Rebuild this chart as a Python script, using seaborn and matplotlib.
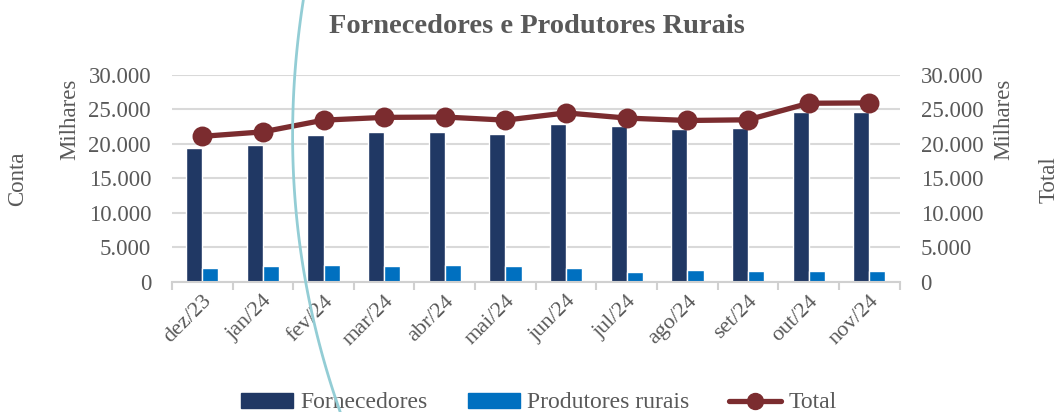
import numpy as np
import pandas as pd
import matplotlib
matplotlib.use("Agg")
import matplotlib.pyplot as plt
import seaborn as sns
from matplotlib.ticker import FuncFormatter, FixedLocator
from matplotlib.patches import Patch
from matplotlib.lines import Line2D

meses = ["dez/23", "jan/24", "fev/24", "mar/24", "abr/24", "mai/24",
         "jun/24", "jul/24", "ago/24", "set/24", "out/24", "nov/24"]
fornecedores = [19400, 19900, 21300, 21800, 21700, 21500,
                22900, 22600, 22100, 22300, 24600, 24600]
produtores = [1950, 2250, 2500, 2350, 2500, 2300,
              2000, 1400, 1650, 1550, 1600, 1600]
total = [21100, 21750, 23450, 23850, 23900, 23450,
         24500, 23750, 23400, 23500, 25900, 25950]

c_forn = "#203864"
c_prod = "#0070C0"
c_total = "#7B2C2F"
grey = "#595959"

sns.set_theme(style="white")
plt.rcParams["font.family"] = ["Liberation Serif", "DejaVu Serif"]

df = pd.DataFrame({
    "mes": meses * 2,
    "valor": fornecedores + produtores,
    "serie": ["Fornecedores"] * 12 + ["Produtores rurais"] * 12,
})

fig = plt.figure(figsize=(10.61, 4.12), dpi=100)
ax = fig.add_axes([0.162, 0.316, 0.686, 0.502])

sns.barplot(data=df, x="mes", y="valor", hue="serie", order=meses,
            palette=[c_forn, c_prod], width=0.53, gap=0, ax=ax,
            legend=False, saturation=1)
ax.set_ylim(0, 30000)
ax.set_xlim(-0.5, 11.5)
fmt = FuncFormatter(lambda v, p: f"{v:,.0f}".replace(",", "."))
ax.yaxis.set_major_formatter(fmt)
ax.set_yticks(np.arange(0, 30001, 5000))
ax.grid(axis="y", color="#d9d9d9", linewidth=1.5)
ax.set_axisbelow(True)
for s in ["top", "left", "right"]:
    ax.spines[s].set_visible(False)
ax.spines["bottom"].set_color("#d0d0d0")
ax.spines["bottom"].set_linewidth(1.5)
ax.set_xlabel("")
ax.set_ylabel("")
ax.tick_params(axis="y", colors=grey, labelsize=16.5, length=0, pad=15)
ax.tick_params(axis="x", which="major", length=0, colors=grey, labelsize=16, pad=7)
ax.xaxis.set_minor_locator(FixedLocator(np.arange(-0.5, 12, 1)))
ax.tick_params(axis="x", which="minor", length=6, width=1.5, color="#d0d0d0",
               direction="out", bottom=True)
plt.setp(ax.get_xticklabels(), rotation=45, ha="right", rotation_mode="anchor")

ax2 = ax.twinx()
sns.pointplot(x=meses, y=total, color=c_total, markers="o", markersize=11.5,
              linewidth=3.8, ax=ax2, errorbar=None)
ax2.set_ylim(0, 30000)
ax2.set_xlim(-0.5, 11.5)
ax2.set_yticks(np.arange(0, 30001, 5000))
ax2.yaxis.set_major_formatter(fmt)
ax2.tick_params(axis="y", colors=grey, labelsize=16.5, length=0, pad=15)
for s in ["top", "left", "right", "bottom"]:
    ax2.spines[s].set_visible(False)
ax2.set_ylabel("")

fig.text(0.506, 0.935, "Fornecedores e Produtores Rurais", ha="center", va="center",
         fontsize=20.5, fontweight="bold", color=grey)
fig.text(0.066, 0.71, "Milhares", rotation=90, ha="center", va="center",
         fontsize=16.5, color=grey)
fig.text(0.017, 0.565, "Conta", rotation=90, ha="center", va="center",
         fontsize=16.5, color=grey)
fig.text(0.946, 0.71, "Milhares", rotation=90, ha="center", va="center",
         fontsize=16.5, color=grey)
fig.text(0.989, 0.565, "Total", rotation=90, ha="center", va="center",
         fontsize=16.5, color=grey)

handles = [Patch(color=c_forn), Patch(color=c_prod),
           Line2D([], [], color=c_total, lw=3.8, marker="o", markersize=11.5)]
fig.legend(handles, ["Fornecedores", "Produtores rurais", "Total"],
           loc="center", bbox_to_anchor=(0.508, 0.022), ncol=3, frameon=False,
           fontsize=17, labelcolor=grey, handlelength=2.2, handleheight=0.6,
           handletextpad=0.3, columnspacing=1.7)

# decorative curved line crossing the slide
yy = np.linspace(0, 412, 60)
pts_y = [0, 100, 150, 170, 247, 300, 412]
pts_x = [303, 295, 292.5, 291.7, 300, 310, 340]
coef = np.polyfit(pts_y, pts_x, 3)
xx = np.polyval(coef, yy)
fig.add_artist(Line2D(xx / 1061, 1 - yy / 412, transform=fig.transFigure,
                      color="#93cdd5", lw=2, zorder=10))

fig.savefig("out.png", dpi=100)
